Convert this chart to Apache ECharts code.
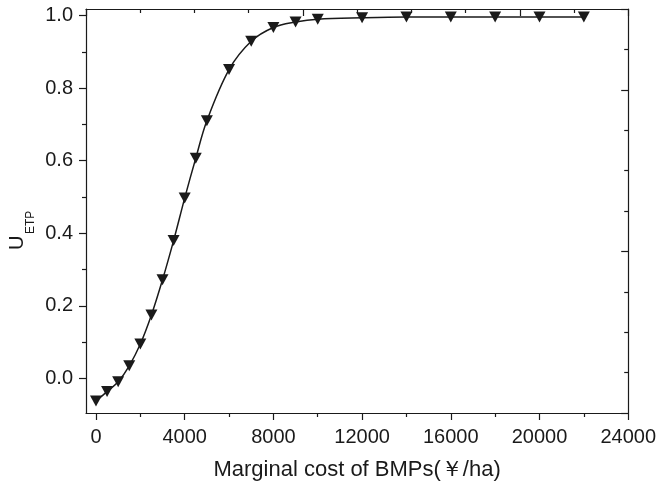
<!DOCTYPE html>
<html>
<head>
<meta charset="utf-8">
<style>
  html, body { margin: 0; padding: 0; background: #ffffff; }
  #chart { width: 659px; height: 487px; }
</style>
<script src="https://cdn.jsdelivr.net/npm/echarts@6/dist/echarts.min.js"></script>
</head>
<body>
<div id="chart"></div>
<script>
// Marginal cost of BMPs (yuan/ha) and the corresponding U_ETP values
const costs = [0, 500, 1000, 1500, 2000, 2500, 3000, 3500, 4000, 4500, 5000,
               6000, 7000, 8000, 9000, 10000, 12000, 14000, 16000, 18000, 20000, 22000];
const uEtp = [-0.062, -0.036, -0.009, 0.035, 0.095, 0.175, 0.272, 0.380, 0.497, 0.607, 0.710,
              0.851, 0.929, 0.967, 0.982, 0.990, 0.994, 0.996, 0.996, 0.996, 0.996, 0.996];

// Tick positions
const xMajorTicks = [0, 4000, 8000, 12000, 16000, 20000, 24000];
const xMinorTicks = [2000, 6000, 10000, 14000, 18000, 22000];
const yMajorTicks = [0, 0.2, 0.4, 0.6, 0.8, 1.0];
const yMinorTicks = [0.1, 0.3, 0.5, 0.7, 0.9];

const ink = '#1a1a1a';
const font = 'Liberation Sans, Arial, Helvetica, sans-serif';

const chart = echarts.init(document.getElementById('chart'), null, { renderer: 'canvas' });

const points = costs.map((c, i) => [c, uEtp[i]]);

const frameLine = { show: true, onZero: false, lineStyle: { color: ink, width: 1.2 } };
const noLine = { show: false, onZero: false };

chart.setOption({
  backgroundColor: '#ffffff',
  animation: false,
  textStyle: { fontFamily: font, color: ink },
  grid: { left: 86, right: 29, top: 9, bottom: 74, containLabel: false },
  xAxis: [
    {
      type: 'value', position: 'bottom', min: -450, max: 24000,
      axisLine: frameLine,
      axisTick: { show: true, customValues: xMajorTicks, length: 7, inside: false,
                  lineStyle: { color: ink, width: 1.2 } },
      axisLabel: { show: true, customValues: xMajorTicks, fontSize: 20, margin: 14,
                   color: ink, fontFamily: font, formatter: v => String(v) },
      splitLine: { show: false },
      name: 'Marginal cost of BMPs(￥/ha)', nameLocation: 'middle', nameGap: 46,
      nameTextStyle: { fontSize: 22, color: ink, fontFamily: font }
    },
    {
      type: 'value', position: 'bottom', min: -450, max: 24000,
      axisLine: noLine,
      axisTick: { show: true, customValues: xMinorTicks, length: 4, inside: false,
                  lineStyle: { color: ink, width: 1.2 } },
      axisLabel: { show: false },
      splitLine: { show: false }
    },
    {
      type: 'value', position: 'top', min: 0, max: 10, interval: 4,
      axisLine: frameLine,
      axisTick: { show: true, inside: true, length: 7, lineStyle: { color: ink, width: 1.2 } },
      minorTick: { show: true, splitNumber: 4, length: 4, lineStyle: { color: ink, width: 1.2 } },
      axisLabel: { show: false },
      splitLine: { show: false }, minorSplitLine: { show: false }
    }
  ],
  yAxis: [
    {
      type: 'value', position: 'left', min: -0.095, max: 1.018,
      axisLine: frameLine,
      axisTick: { show: true, customValues: yMajorTicks, length: 7, inside: false,
                  lineStyle: { color: ink, width: 1.2 } },
      axisLabel: { show: true, customValues: yMajorTicks, fontSize: 20, margin: 13,
                   color: ink, fontFamily: font, formatter: v => v.toFixed(1) },
      splitLine: { show: false }
    },
    {
      type: 'value', position: 'left', min: -0.095, max: 1.018,
      axisLine: noLine,
      axisTick: { show: true, customValues: yMinorTicks, length: 4, inside: false,
                  lineStyle: { color: ink, width: 1.2 } },
      axisLabel: { show: false },
      splitLine: { show: false }
    },
    {
      type: 'value', position: 'right', min: 0, max: 10, interval: 4,
      axisLine: frameLine,
      axisTick: { show: true, inside: true, length: 7, lineStyle: { color: ink, width: 1.2 } },
      minorTick: { show: true, splitNumber: 4, length: 4, lineStyle: { color: ink, width: 1.2 } },
      axisLabel: { show: false },
      splitLine: { show: false }, minorSplitLine: { show: false }
    }
  ],
  graphic: [
    {
      type: 'group', x: 17.5, y: 250, rotation: Math.PI / 2,
      children: [
        { type: 'text', x: 0, y: 0,
          style: { text: 'U', fontSize: 20, fontFamily: font, fill: ink,
                   align: 'left', verticalAlign: 'middle' } },
        { type: 'text', x: 16, y: 13,
          style: { text: 'ETP', fontSize: 12, fontFamily: font, fill: ink,
                   align: 'left', verticalAlign: 'middle' } }
      ]
    }
  ],
  series: [
    {
      type: 'line', xAxisIndex: 0, yAxisIndex: 0,
      data: points,
      smooth: 0.35,
      lineStyle: { color: ink, width: 1.5 },
      symbol: 'triangle', symbolRotate: 180, symbolSize: [12, 11],
      itemStyle: { color: ink },
      emphasis: { disabled: true }
    }
  ]
});
</script>
</body>
</html>
